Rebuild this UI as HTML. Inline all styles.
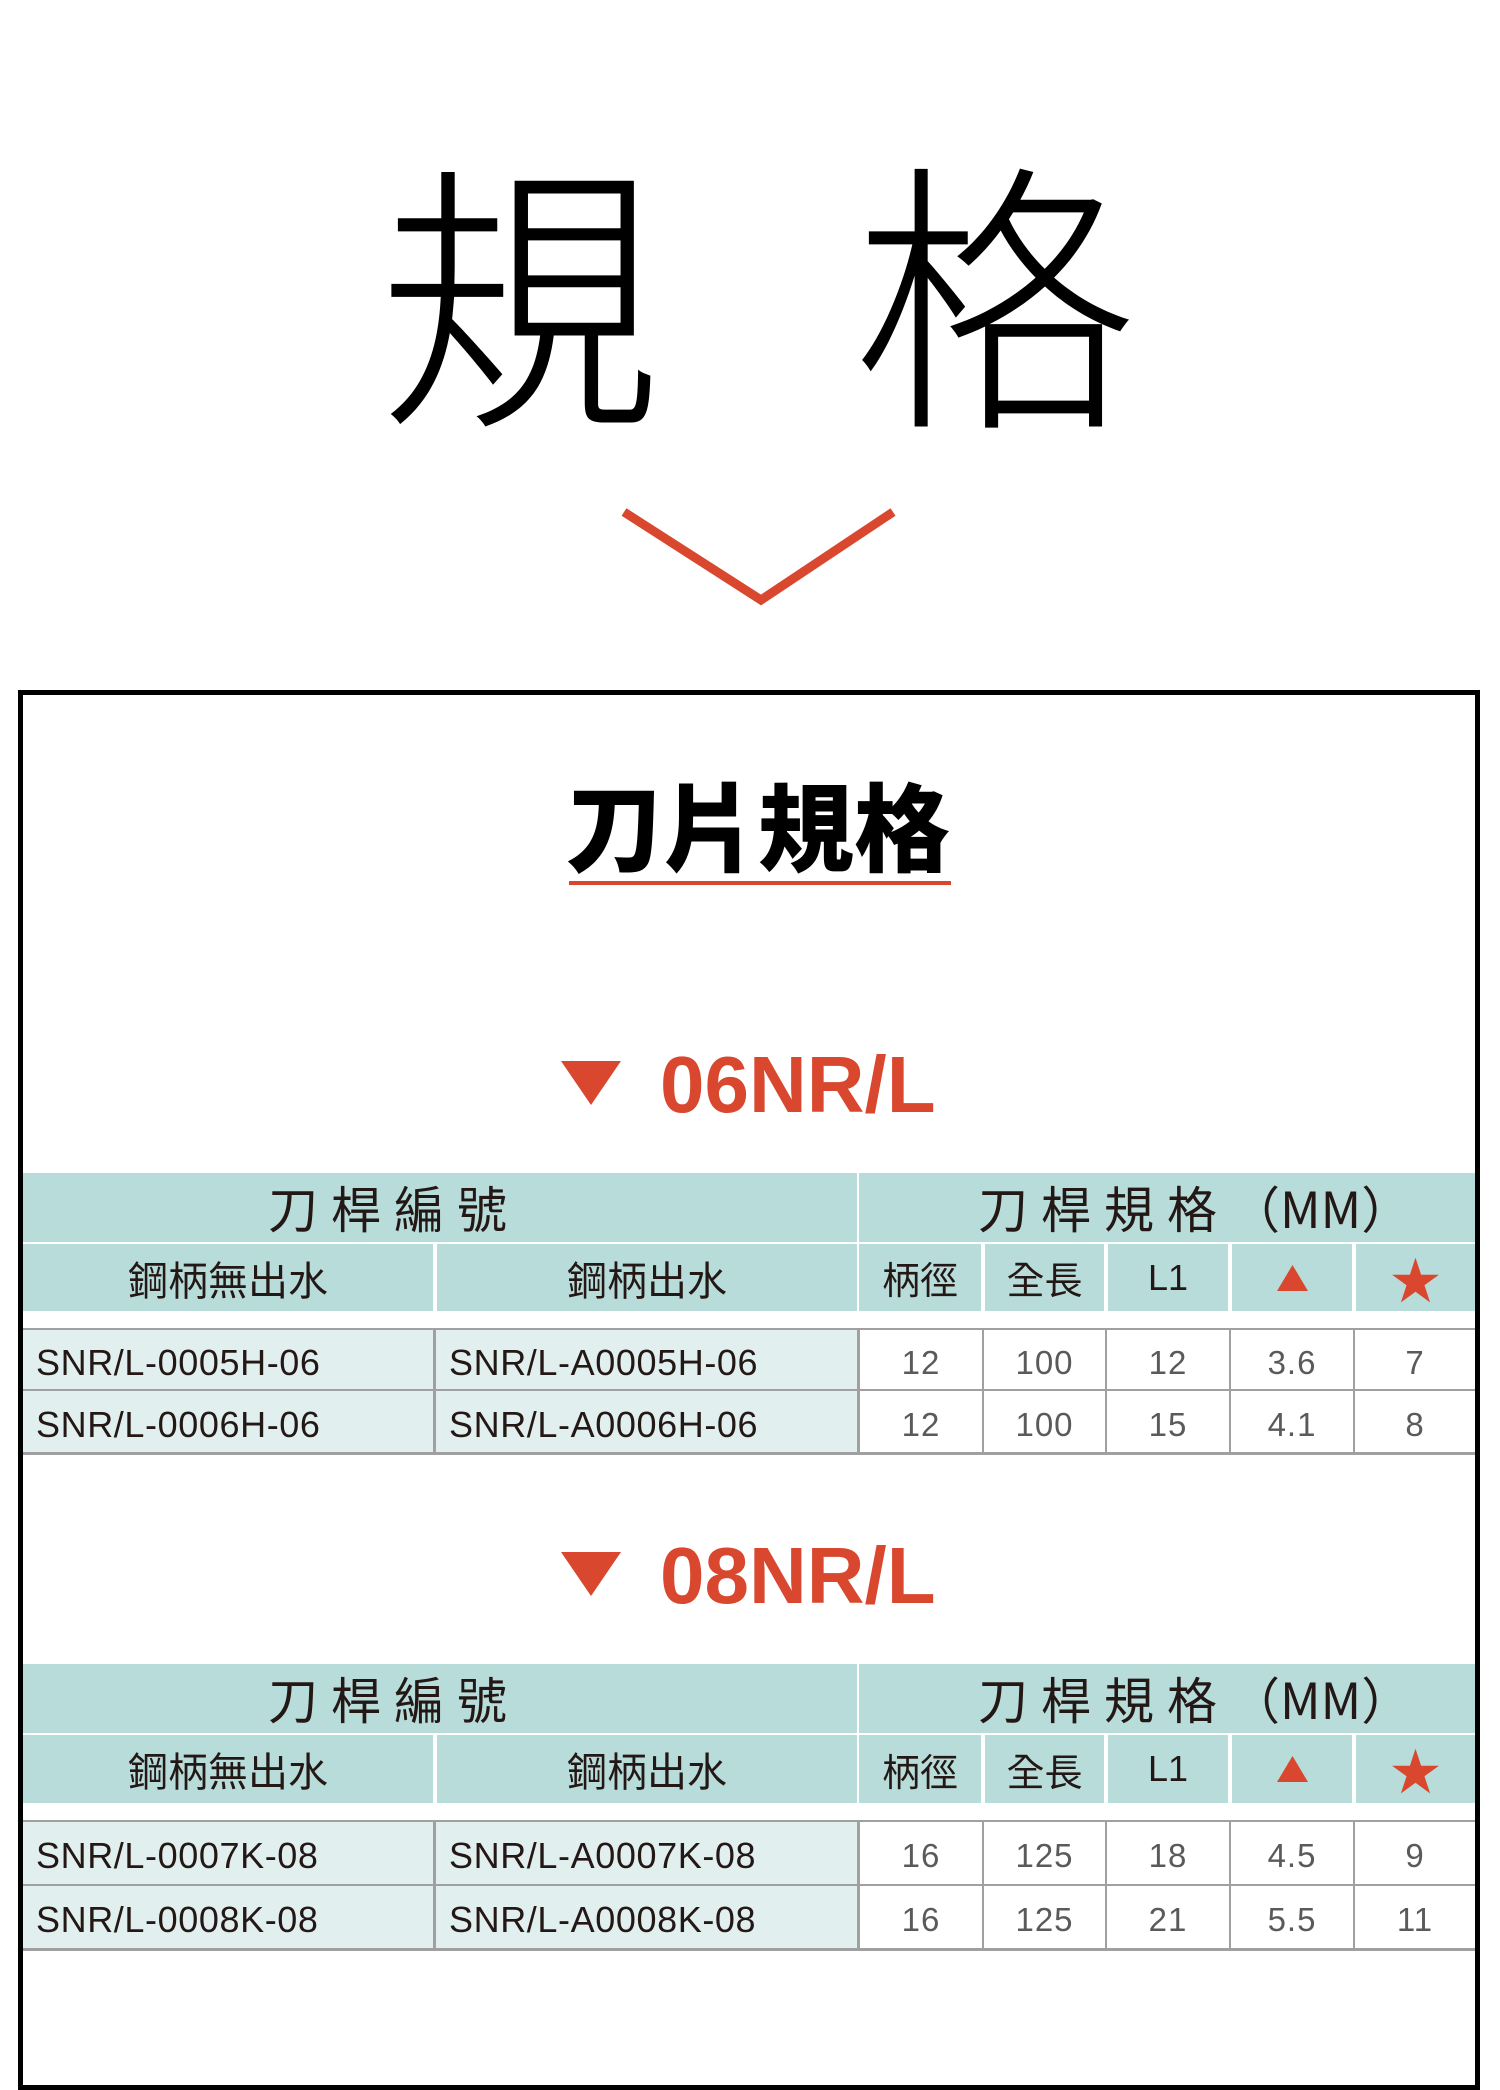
<!DOCTYPE html>
<html><head><meta charset="utf-8"><style>
*{margin:0;padding:0;box-sizing:border-box}
body{width:1500px;height:1996px;background:#fff;position:relative;overflow:hidden;font-family:"Liberation Sans","Noto Sans CJK TC",sans-serif;color:#231815}
.a{position:absolute}
.big{position:absolute;font-family:"Noto Sans CJK TC",sans-serif;font-size:284px;line-height:1;font-weight:300;color:#000}
.h{position:absolute;background:#b8dcda;display:flex;align-items:center;justify-content:center;font-family:"Liberation Sans","Noto Sans CJK TC",sans-serif;color:#231815}
.d{position:absolute;display:flex;align-items:center;font-size:33px;padding-top:6px}
.code{background:#e1efee;color:#231815;padding-left:13px;font-size:36px;letter-spacing:0.6px}
.num{background:#fff;color:#5a5a5a;justify-content:center;letter-spacing:1px}
.sec{position:absolute;font-family:"Liberation Sans",sans-serif;font-weight:bold;font-size:80px;color:#d9472f;line-height:1}
</style></head><body>
<div class="big" style="left:378px;top:141px">規</div>
<div class="big" style="left:853px;top:141px">格</div>
<svg class="a" style="left:0;top:0" width="1500" height="700"><polyline points="624,512 761,600 893,512" fill="none" stroke="#d9472f" stroke-width="9"/></svg>

<div class="a" style="left:18px;top:690px;width:1462px;height:1400px;border:5px solid #000"></div>

<div class="a" style="left:566px;top:775px;font-family:'Noto Sans CJK TC',sans-serif;font-weight:900;font-size:96px;line-height:1;color:#000">刀片規格</div>
<div class="a" style="left:569px;top:881px;width:382px;height:4px;background:#d9472f"></div>

<svg class="a" style="left:561px;top:1061px" width="60" height="44"><polygon points="0,0 60,0 30,44" fill="#d9472f"/></svg>
<div class="sec" style="left:660px;top:1045px">06NR/L</div>

<div class="h" style="left:23px;top:1173px;width:834px;height:69px"></div>
<div class="a" style="left:268px;top:1180px;font-family:'Noto Sans CJK TC',sans-serif;font-size:50px;letter-spacing:13px;line-height:1.1">刀桿編號</div>
<div class="h" style="left:859px;top:1173px;width:616px;height:69px"></div>
<div class="a" style="left:978px;top:1180px;font-family:'Noto Sans CJK TC',sans-serif;font-size:50px;letter-spacing:13px;line-height:1.1;white-space:nowrap">刀桿規格<span style="letter-spacing:0">（MM）</span></div>
<div class="h" style="left:23px;top:1244px;width:410px;height:67px;font-size:40px">鋼柄無出水</div>
<div class="h" style="left:437px;top:1244px;width:420px;height:67px;font-size:40px">鋼柄出水</div>
<div class="h" style="left:859px;top:1244px;width:122px;height:67px;font-size:38px">柄徑</div>
<div class="h" style="left:985px;top:1244px;width:119px;height:67px;font-size:38px">全長</div>
<div class="h" style="left:1108px;top:1244px;width:120px;height:67px;font-size:36px">L1</div>
<div class="h" style="left:1232px;top:1244px;width:120px;height:67px"><svg width="31" height="26"><polygon points="15.5,0 31,26 0,26" fill="#d9472f"/></svg></div>
<div class="h" style="left:1356px;top:1244px;width:119px;height:67px;color:#d9472f;font-size:50px">★</div>

<div class="a" style="left:23px;top:1328px;width:1452px;height:127px;background:#a0a0a0"></div>
<div class="d code" style="left:23px;top:1330px;width:410px;height:59px">SNR/L-0005H-06</div>
<div class="d code" style="left:436px;top:1330px;width:421px;height:59px">SNR/L-A0005H-06</div>
<div class="d num" style="left:860px;top:1330px;width:122px;height:59px">12</div>
<div class="d num" style="left:984px;top:1330px;width:121px;height:59px">100</div>
<div class="d num" style="left:1107px;top:1330px;width:122px;height:59px">12</div>
<div class="d num" style="left:1231px;top:1330px;width:122px;height:59px">3.6</div>
<div class="d num" style="left:1355px;top:1330px;width:120px;height:59px">7</div>
<div class="d code" style="left:23px;top:1391px;width:410px;height:61px">SNR/L-0006H-06</div>
<div class="d code" style="left:436px;top:1391px;width:421px;height:61px">SNR/L-A0006H-06</div>
<div class="d num" style="left:860px;top:1391px;width:122px;height:61px">12</div>
<div class="d num" style="left:984px;top:1391px;width:121px;height:61px">100</div>
<div class="d num" style="left:1107px;top:1391px;width:122px;height:61px">15</div>
<div class="d num" style="left:1231px;top:1391px;width:122px;height:61px">4.1</div>
<div class="d num" style="left:1355px;top:1391px;width:120px;height:61px">8</div>

<svg class="a" style="left:561px;top:1552px" width="60" height="44"><polygon points="0,0 60,0 30,44" fill="#d9472f"/></svg>
<div class="sec" style="left:660px;top:1536px">08NR/L</div>

<div class="h" style="left:23px;top:1664px;width:834px;height:69px"></div>
<div class="a" style="left:268px;top:1671px;font-family:'Noto Sans CJK TC',sans-serif;font-size:50px;letter-spacing:13px;line-height:1.1">刀桿編號</div>
<div class="h" style="left:859px;top:1664px;width:616px;height:69px"></div>
<div class="a" style="left:978px;top:1671px;font-family:'Noto Sans CJK TC',sans-serif;font-size:50px;letter-spacing:13px;line-height:1.1;white-space:nowrap">刀桿規格<span style="letter-spacing:0">（MM）</span></div>
<div class="h" style="left:23px;top:1735px;width:410px;height:68px;font-size:40px">鋼柄無出水</div>
<div class="h" style="left:437px;top:1735px;width:420px;height:68px;font-size:40px">鋼柄出水</div>
<div class="h" style="left:859px;top:1735px;width:122px;height:68px;font-size:38px">柄徑</div>
<div class="h" style="left:985px;top:1735px;width:119px;height:68px;font-size:38px">全長</div>
<div class="h" style="left:1108px;top:1735px;width:120px;height:68px;font-size:36px">L1</div>
<div class="h" style="left:1232px;top:1735px;width:120px;height:68px"><svg width="31" height="26"><polygon points="15.5,0 31,26 0,26" fill="#d9472f"/></svg></div>
<div class="h" style="left:1356px;top:1735px;width:119px;height:68px;color:#d9472f;font-size:50px">★</div>

<div class="a" style="left:23px;top:1820px;width:1452px;height:131px;background:#a0a0a0"></div>
<div class="d code" style="left:23px;top:1822px;width:410px;height:62px">SNR/L-0007K-08</div>
<div class="d code" style="left:436px;top:1822px;width:421px;height:62px">SNR/L-A0007K-08</div>
<div class="d num" style="left:860px;top:1822px;width:122px;height:62px">16</div>
<div class="d num" style="left:984px;top:1822px;width:121px;height:62px">125</div>
<div class="d num" style="left:1107px;top:1822px;width:122px;height:62px">18</div>
<div class="d num" style="left:1231px;top:1822px;width:122px;height:62px">4.5</div>
<div class="d num" style="left:1355px;top:1822px;width:120px;height:62px">9</div>
<div class="d code" style="left:23px;top:1886px;width:410px;height:62px">SNR/L-0008K-08</div>
<div class="d code" style="left:436px;top:1886px;width:421px;height:62px">SNR/L-A0008K-08</div>
<div class="d num" style="left:860px;top:1886px;width:122px;height:62px">16</div>
<div class="d num" style="left:984px;top:1886px;width:121px;height:62px">125</div>
<div class="d num" style="left:1107px;top:1886px;width:122px;height:62px">21</div>
<div class="d num" style="left:1231px;top:1886px;width:122px;height:62px">5.5</div>
<div class="d num" style="left:1355px;top:1886px;width:120px;height:62px">11</div>
</body></html>
